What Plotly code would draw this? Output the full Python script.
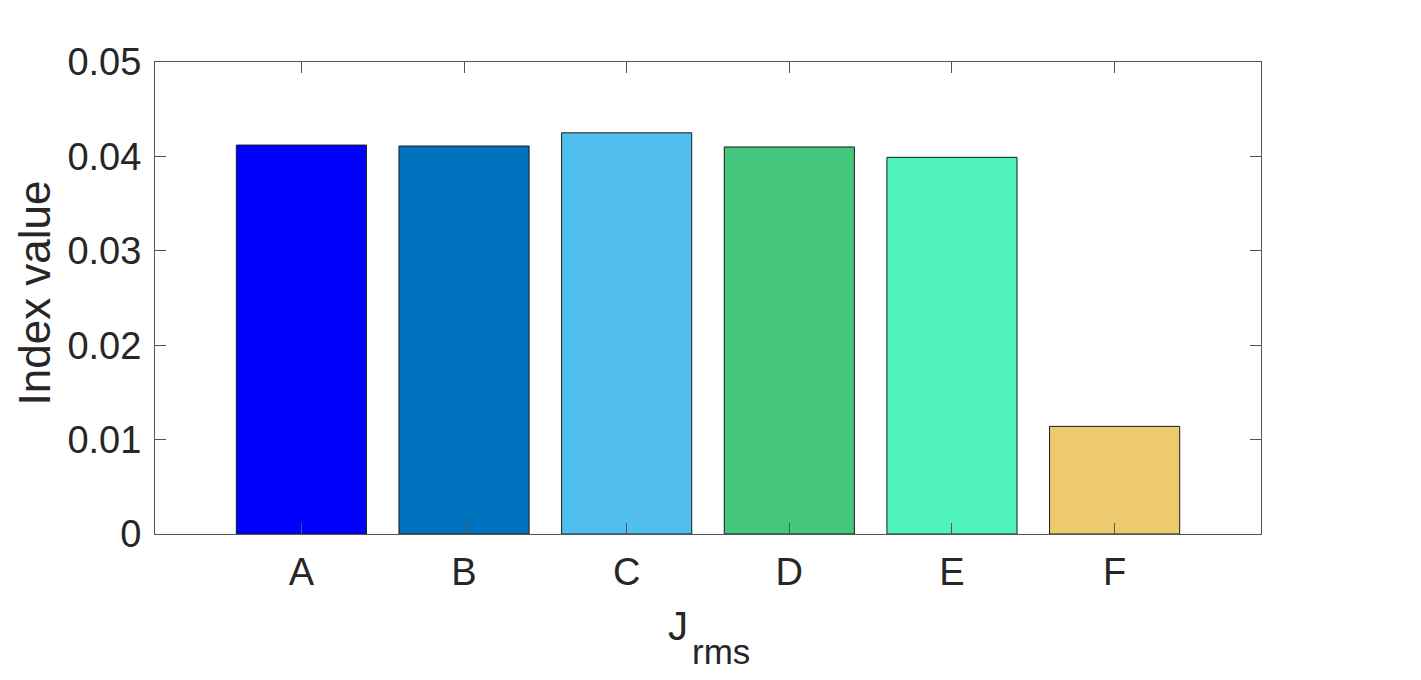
import plotly.graph_objects as go

categories = ["A", "B", "C", "D", "E", "F"]
values = [0.0412, 0.0411, 0.0425, 0.0410, 0.0399, 0.0114]
colors = ["#0000FF", "#0072BD", "#50BFEE", "#45C67D", "#50F2BE", "#EDCA6E"]
y_ticks = [0, 0.01, 0.02, 0.03, 0.04, 0.05]
y_tick_text = ["0", "0.01", "0.02", "0.03", "0.04", "0.05"]

# page has an 8px body margin; compensate
W, H = 1413, 672
L, R, T, B = 147, 160, 54, 146

fig = go.Figure()
fig.add_trace(go.Bar(
    x=list(range(len(categories))),
    y=values,
    width=0.8,
    marker=dict(color=colors, line=dict(color="#1a1a1a", width=1)),
    showlegend=False,
))

axis_color = "#555555"
font_family = "Liberation Sans, Arial, sans-serif"

fig.update_layout(
    width=W, height=H,
    margin=dict(l=L, r=R, t=T, b=B, autoexpand=False),
    plot_bgcolor="white", paper_bgcolor="white",
    font=dict(family=font_family, color="#262626"),
)
fig.update_xaxes(
    range=[-0.9, 5.9],
    tickmode="array",
    tickvals=list(range(len(categories))),
    ticktext=categories,
    ticks="inside", ticklen=11, tickwidth=1, tickcolor=axis_color,
    showline=True, linecolor=axis_color, linewidth=1, mirror="ticks",
    showgrid=False, zeroline=False,
    tickfont=dict(size=38, color="#262626"),
    ticklabelstandoff=4,
)
fig.update_yaxes(
    range=[0, 0.05],
    tickmode="array",
    tickvals=y_ticks,
    ticktext=y_tick_text,
    ticks="inside", ticklen=11, tickwidth=1, tickcolor=axis_color,
    showline=True, linecolor=axis_color, linewidth=1, mirror="ticks",
    showgrid=False, zeroline=False,
    tickfont=dict(size=38, color="#262626"),
    ticklabelstandoff=5,
)

plot_w = W - L - R
plot_h = H - T - B
off = 8

# y-axis title as annotation (slightly above plot centre, as in reference)
fig.add_annotation(
    text="Index value", xref="paper", yref="paper",
    x=-(L - (34 - off)) / plot_w, y=1 - (293.5 - off - T) / plot_h,
    xanchor="center", yanchor="middle", textangle=-90, showarrow=False,
    font=dict(size=44, color="#262626", family=font_family),
)
fig.add_annotation(
    text="J", xref="paper", yref="paper",
    x=(668 - off - L) / plot_w, y=-(639 - off - (T + plot_h)) / plot_h,
    xanchor="left", yanchor="bottom", showarrow=False,
    font=dict(size=40, color="#262626", family=font_family),
    yshift=-11, xshift=-2,
)
fig.add_annotation(
    text="rms", xref="paper", yref="paper",
    x=(692 - off - L) / plot_w, y=-(663 - off - (T + plot_h)) / plot_h,
    xanchor="left", yanchor="bottom", showarrow=False,
    font=dict(size=35, color="#262626", family=font_family),
    yshift=-10, xshift=-2,
)

fig.write_html("out.html")
